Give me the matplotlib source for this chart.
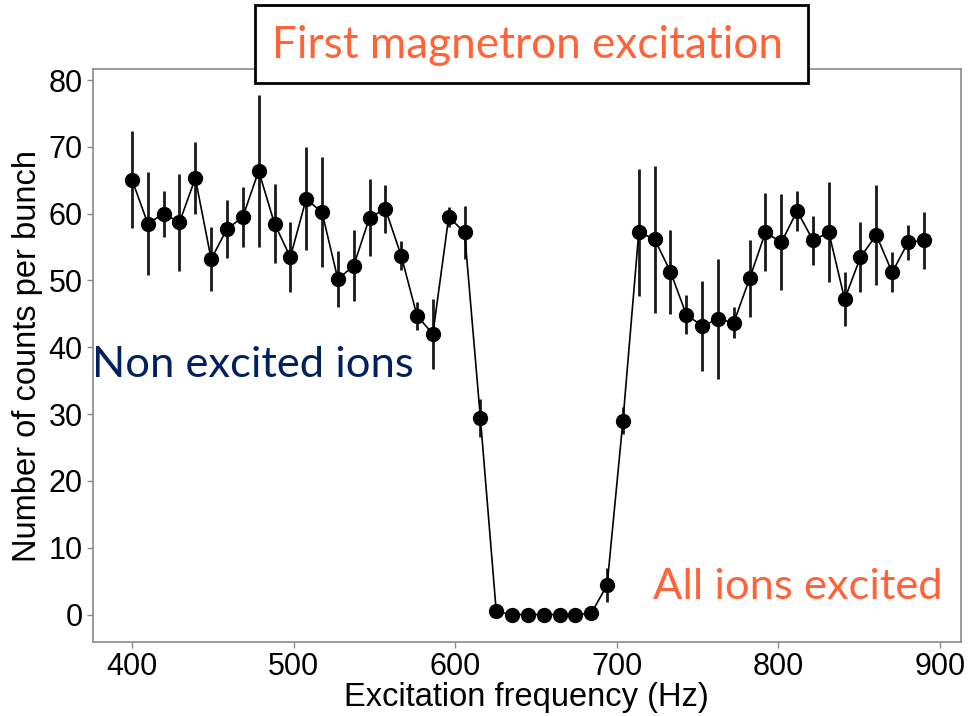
import numpy as np
import matplotlib
matplotlib.use("Agg")
import matplotlib.pyplot as plt
from matplotlib.patches import Rectangle

# Scan of the excitation frequency (Hz)
freq = np.linspace(400, 890, 51)

counts = [65.1, 58.5, 60.0, 58.7, 65.3, 53.2, 57.7, 59.5, 66.4, 58.5,
          53.5, 62.2, 60.2, 50.2, 52.2, 59.4, 60.7, 53.7, 44.7, 42.0,
          59.5, 57.2, 29.4, 0.5, 0.0, 0.0, 0.0, 0.0, 0.0, 0.2,
          4.4, 29.0, 57.2, 56.2, 51.3, 44.9, 43.2, 44.2, 43.7, 50.3,
          57.2, 55.7, 60.4, 56.0, 57.2, 47.2, 53.5, 56.8, 51.2, 55.7,
          56.0]

errors = [7.2, 7.75, 3.45, 7.3, 5.35, 4.85, 4.35, 4.55, 11.35, 5.9,
          5.2, 7.7, 8.25, 4.15, 5.3, 5.8, 3.55, 2.15, 2.05, 5.3,
          1.5, 3.95, 2.9, 0.0, 0.0, 0.0, 0.0, 0.0, 0.0, 0.0,
          2.5, 2.0, 9.55, 11.0, 6.3, 2.95, 6.7, 9.0, 2.3, 5.8,
          5.85, 7.2, 2.95, 3.65, 7.5, 4.0, 5.25, 7.5, 3.0, 2.6,
          4.3]

x_ticks = [400, 500, 600, 700, 800, 900]
y_ticks = [0, 10, 20, 30, 40, 50, 60, 70, 80]

title_text = "First magnetron excitation"
low_label = "All ions excited"
high_label = "Non excited ions"

orange = "#FF6337"
navy = "#002060"
axis_font = ["Liberation Sans", "DejaVu Sans"]
note_font = ["Lato", "DejaVu Sans"]

fig = plt.figure(figsize=(9.7, 7.16), dpi=100)
ax = fig.add_axes([0.0954, 0.1034, 0.8950, 0.7998])

ax.errorbar(freq, counts, yerr=errors, fmt="o-", color="black",
            ecolor="#1a1a1a", elinewidth=2.0, capsize=0,
            markersize=10, linewidth=1.2, zorder=3)

ax.set_xlim(375.6, 912.8)
ax.set_ylim(-4.1, 81.6)
ax.set_xticks(x_ticks)
ax.set_yticks(y_ticks)

for s in ax.spines.values():
    s.set_color("#8a8a8a")
    s.set_linewidth(1.2)
ax.tick_params(direction="out", length=4, width=1, color="#8a8a8a",
               labelsize=22, pad=3)
for lab in ax.get_xticklabels() + ax.get_yticklabels():
    lab.set_family(axis_font)

ax.set_xlabel("Excitation frequency (Hz)", fontsize=23.5, family=axis_font,
              labelpad=0)
ax.set_ylabel("Number of counts per bunch", fontsize=23.5, family=axis_font,
              labelpad=4)

# Annotations
fig.text(92 / 970, 1 - 365 / 716, high_label, color=navy, fontsize=31.3,
         family=note_font, ha="left", va="center")
fig.text(943 / 970, 1 - 587 / 716, low_label, color=orange, fontsize=31.3,
         family=note_font, ha="right", va="center")

# Boxed title
box = Rectangle((255 / 970, 1 - 83 / 716), (808 - 255) / 970, (83 - 5) / 716,
                transform=fig.transFigure, facecolor="white",
                edgecolor="black", linewidth=2, zorder=5)
fig.add_artist(box)
fig.text(528 / 970, 1 - 45 / 716, title_text, color=orange, fontsize=31.8,
         family=note_font, ha="center", va="center", zorder=6)

fig.savefig("out.png", dpi=100)
